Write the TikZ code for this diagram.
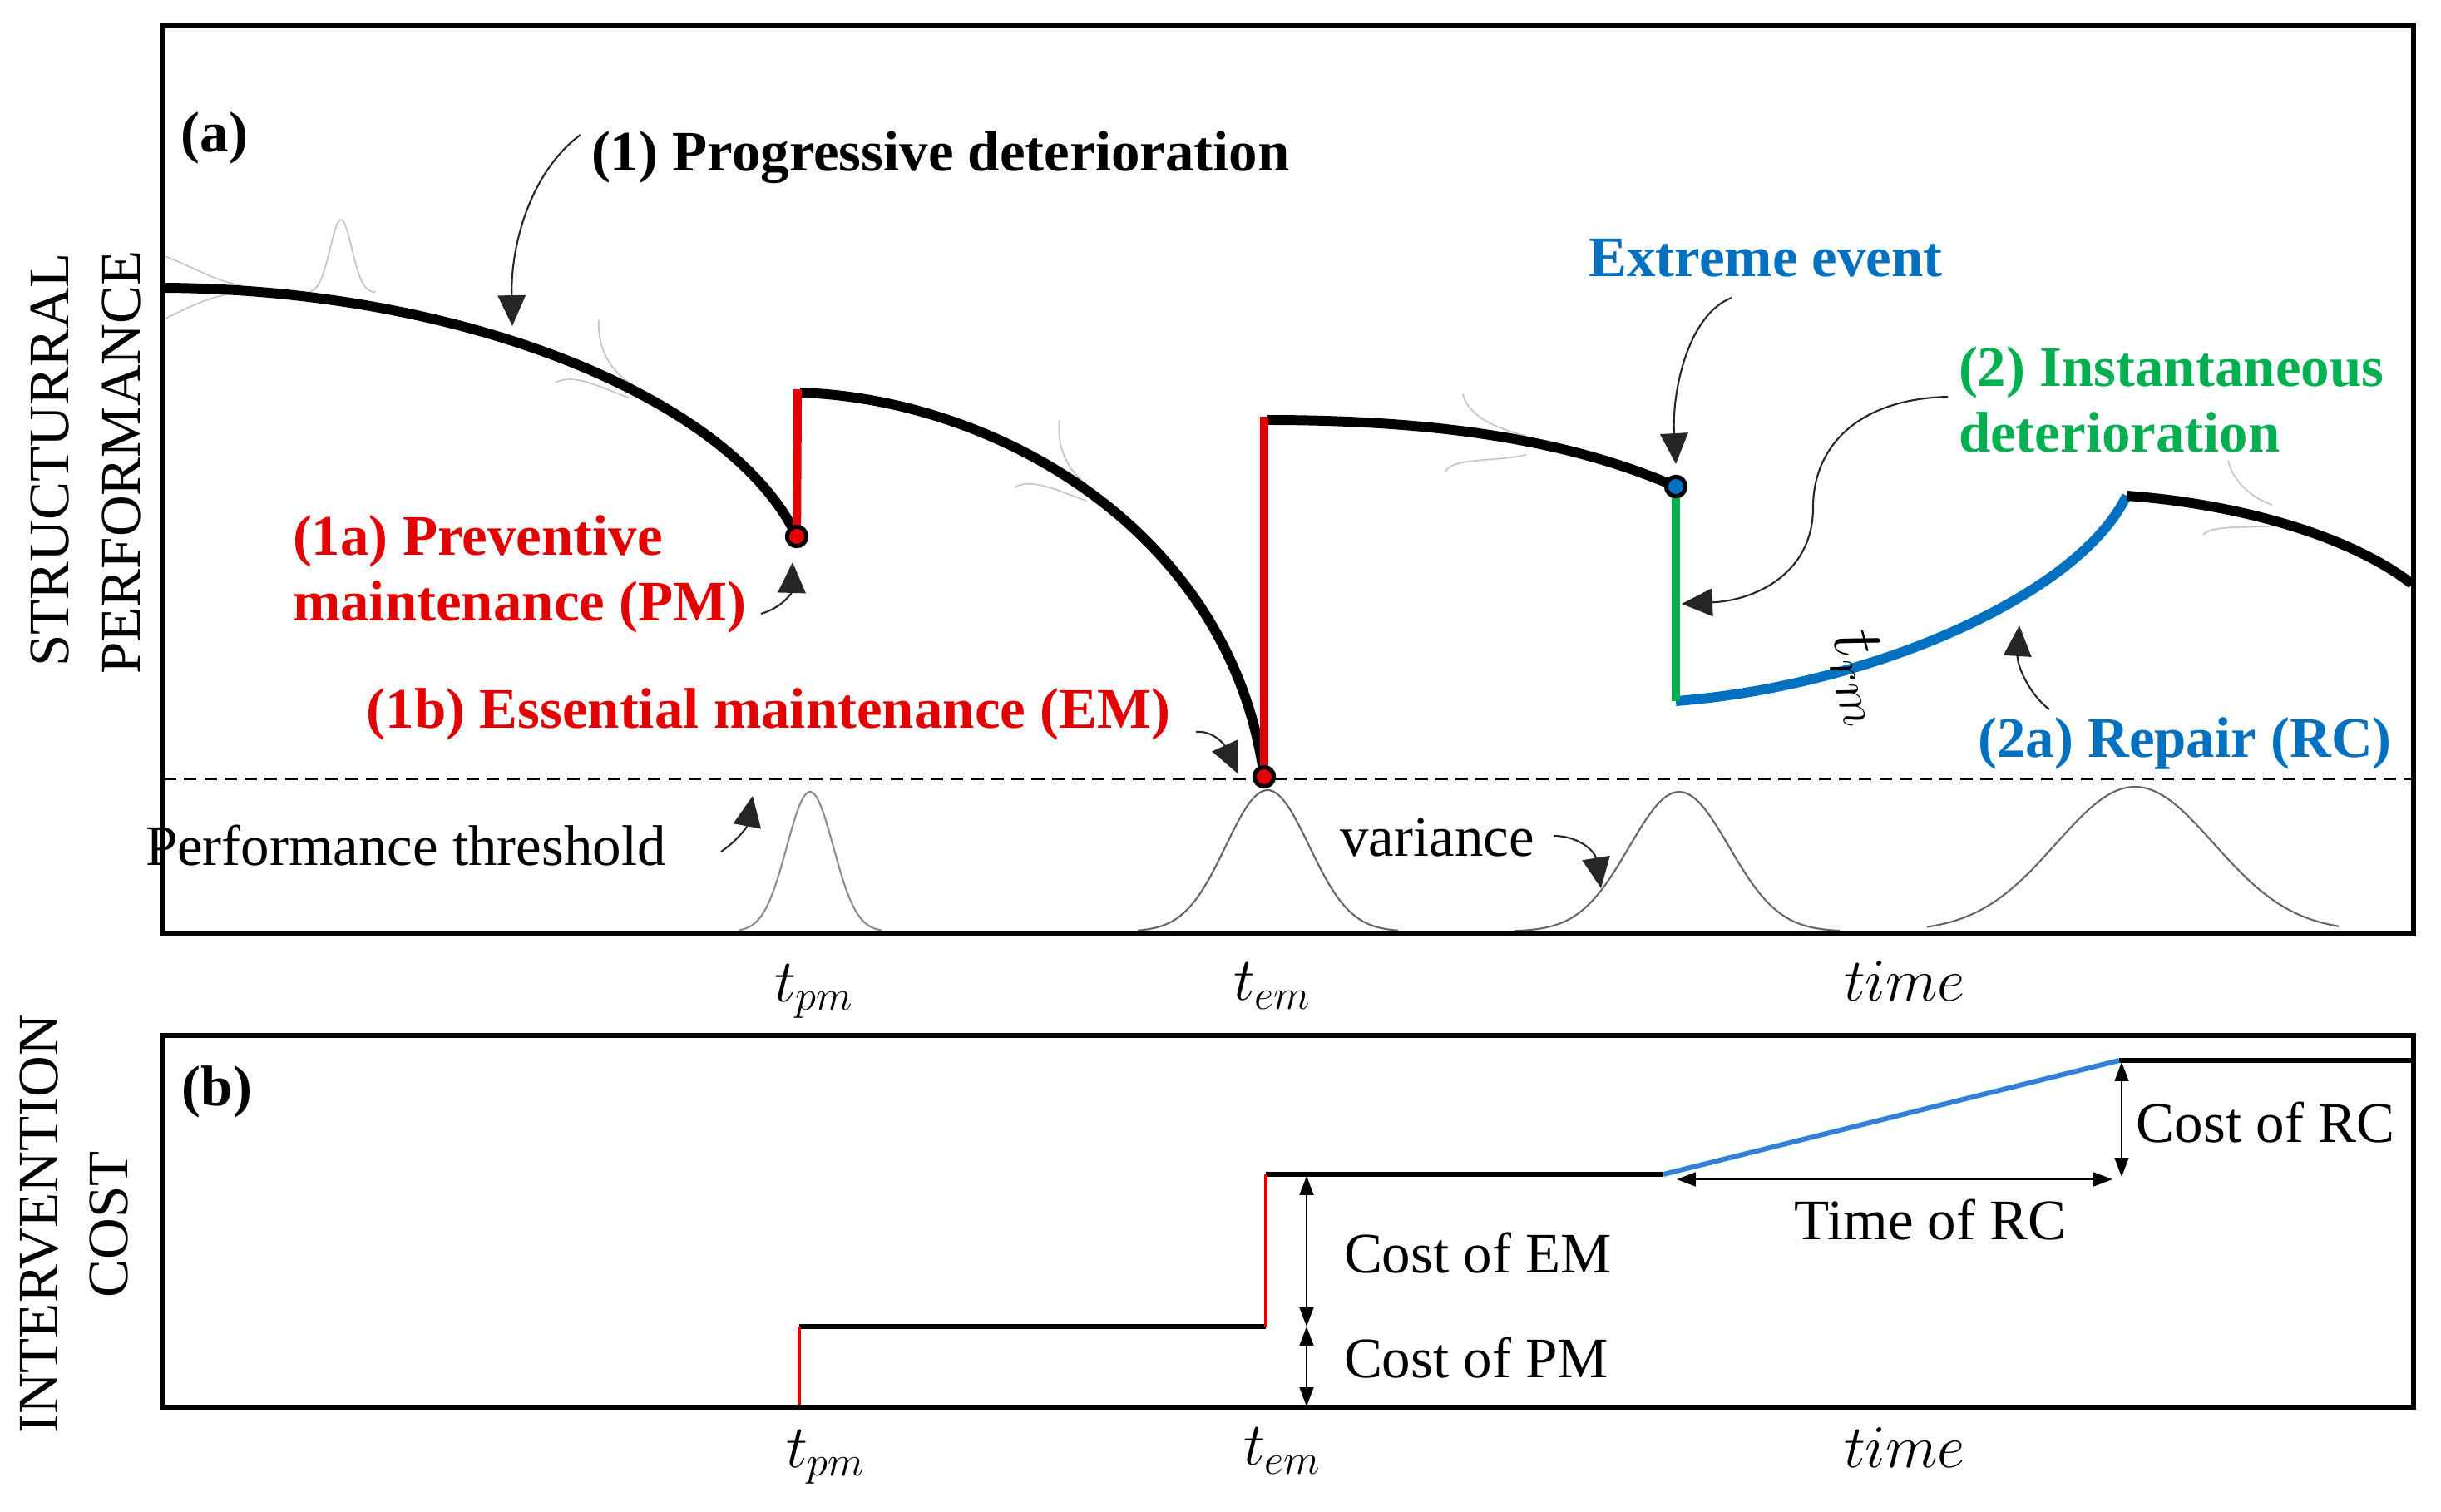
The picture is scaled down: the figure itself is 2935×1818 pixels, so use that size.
\documentclass[tikz,border=0pt]{standalone}
\usepackage{fontspec}
\setmainfont{Liberation Serif}
\usetikzlibrary{arrows.meta,calc}
\definecolor{pmred}{RGB}{226,0,0}
\definecolor{rcblue}{RGB}{0,112,192}
\definecolor{evgreen}{RGB}{0,176,80}
\definecolor{lineblue}{RGB}{50,130,215}
\begin{document}
\begin{tikzpicture}[x=0.01cm,y=-0.01cm,
  every node/.style={inner sep=0pt,outer sep=0pt},
  txt/.style={font=\fontsize{19.6}{22.5}\selectfont},
  btxt/.style={font=\fontsize{19.6}{22.5}\selectfont\bfseries},
  mtxt/.style={font=\fontsize{20}{24}\selectfont},
  frame/.style={line width=1.45pt},
  perf/.style={line width=3.4pt},
  note/.style={black!85,line width=0.6pt,-{Triangle[length=10.5pt,width=9.5pt]}},
  dim/.style={line width=0.5pt,{Triangle[length=6.5pt,width=4.8pt]}-{Triangle[length=6.5pt,width=4.8pt]}},
  pdf/.style={gray!45,line width=0.5pt},
  bell/.style={black!60,line width=0.6pt},
  dot/.style={circle,draw=black,line width=1.4pt,minimum size=6.6pt},
  cost/.style={line width=1.7pt},
]
\useasboundingbox (0,0) rectangle (2935,1818);

% ---------- axis titles ----------
\node[txt,rotate=90] (ylabA1) at (60,553) {STRUCTURRAL};
\node[txt,rotate=90] (ylabA2) at (146,556) {PERFORMANCE};
\node[txt,rotate=90] (ylabB1) at (47,1472) {INTERVENTION};
\node[txt,rotate=90] (ylabB2) at (131,1472) {COST};

% ---------- panel (a) ----------
% faint pdf curves along the path
\draw[pdf] (198,308) .. controls (235,322) and (258,338) .. (290,343);
\draw[pdf] (199,383) .. controls (235,365) and (258,355) .. (290,351);
\draw[pdf] plot[domain=372:452,samples=40] (\x,{352-88*exp(-0.5*((\x-410)/13)*((\x-410)/13))});
\draw[pdf] (720,385) .. controls (718,420) and (735,447) .. (760,462);
\draw[pdf] (668,460) .. controls (690,448) and (722,466) .. (756,478);
\draw[pdf] (1274,505) .. controls (1270,540) and (1285,566) .. (1306,582);
\draw[pdf] (1220,586) .. controls (1240,574) and (1272,590) .. (1306,602);
\draw[pdf] (1759,474) .. controls (1765,500) and (1800,516) .. (1835,524);
\draw[pdf] (1737,568) .. controls (1746,550) and (1790,556) .. (1835,547);
\draw[pdf] (2679,554) .. controls (2685,580) and (2710,600) .. (2732,607);
\draw[pdf] (2649,643) .. controls (2660,630) and (2710,636) .. (2751,631);

% bells under the threshold
\draw[black!45,line width=0.6pt] plot[domain=888:1060,samples=60] (\x,{1120-168*exp(-0.5*((\x-974)/28)*((\x-974)/28))});
\draw[bell] plot[domain=1368:1681,samples=80] (\x,{1120-170*exp(-0.5*((\x-1524)/50)*((\x-1524)/50))});
\draw[bell] plot[domain=1821:2212,samples=80] (\x,{1120-168*exp(-0.5*((\x-2019)/60)*((\x-2019)/60))});
\draw[bell] plot[domain=2317:2812,samples=90] (\x,{1120-174*exp(-0.5*((\x-2567)/95)*((\x-2567)/95))});

% threshold
\coordinate (thrL) at (197,936);
\coordinate (thrR) at (2900,936);
\draw[line width=0.85pt,dash pattern=on 4.3pt off 2.6pt] (thrL) -- (thrR);

% jump points
\coordinate (c1s) at (197,346);
\coordinate (pmTop) at (959,468);
\coordinate (emTop) at (1520,501);
\coordinate (eeLow) at (2015,843);
\coordinate (rcEnd) at (2557,596);
\coordinate (c4e) at (2900,702);
\node[dot,fill=pmred] (pmdot) at (958,645) {};
\node[dot,fill=pmred] (emdot) at (1520,934) {};
\node[dot,fill=rcblue] (eedot) at (2015,585) {};

% performance curves
\draw[perf] (c1s) .. controls (560,348) and (880,480) .. (pmdot.center);
\draw[perf] (962,472) .. controls (1200,480) and (1480,640) .. (emdot.center);
\draw[perf] (1524,505) .. controls (1750,505) and (1900,535) .. (eedot.center);
\draw[perf,rcblue] (eeLow) .. controls (2250,825) and (2500,715) .. (rcEnd);
\draw[perf] (rcEnd) .. controls (2680,605) and (2820,640) .. (c4e);

% jumps
\draw[pmred,line width=2.9pt] (pmdot.center) -- (pmTop);
\draw[pmred,line width=2.9pt] (emdot.center) -- (emTop);
\draw[evgreen,line width=2.9pt] (eedot.center) -- (eeLow);
\node[dot,fill=pmred] at (pmdot) {};
\node[dot,fill=pmred] at (emdot) {};
\node[dot,fill=rcblue] at (eedot) {};

\node[font=\fontsize{24}{28}\selectfont,rotate=-75] (trm) at (2238,815) {$t_{rm}$};

% labels
\node[btxt] (tagA) at (258,166) {(a)};
\node[btxt,anchor=west] (lprog) at (711,189) {(1) Progressive deterioration};
\node[btxt,text=rcblue] (lext) at (2123,310) {Extreme event};
\node[btxt,text=evgreen,anchor=west,align=left] (linst) at (2355,480) {(2) Instantaneous\\deterioration};
\node[btxt,text=pmred,anchor=west,align=left] (lpm) at (352,690) {(1a) Preventive\\maintenance (PM)};
\node[btxt,text=pmred] (lem) at (924,859) {(1b) Essential maintenance (EM)};
\node[btxt,text=rcblue] (lrc) at (2627,894) {(2a) Repair (RC)};
\node[txt,anchor=west] (lthr) at (175,1017) {Performance threshold};
\node[txt] (lvar) at (1728,1007) {variance};

% annotation arrows
\coordinate (a1s) at ($(lprog.west)+(-13,-27)$);
\coordinate (a1e) at (616,392);
\draw[note] (a1s) .. controls (640,205) and (614,290) .. (a1e);
\coordinate (ees) at (2082,358);
\coordinate (eee) at (2015,558);
\draw[note] (ees) .. controls (2030,378) and (2010,470) .. (eee);
\coordinate (ins) at (2342,477);
\coordinate (ine) at (2022,726);
\draw[note] (ins) .. controls (2230,480) and (2180,540) .. (2180,610) .. controls (2180,690) and (2110,722) .. (ine);
\coordinate (rcs) at (2464,853);
\coordinate (rce) at (2428,752);
\draw[note] (rcs) .. controls (2440,835) and (2425,800) .. (rce);
\coordinate (pms) at (915,738);
\coordinate (pme) at (953,676);
\draw[note] (pms) .. controls (942,730) and (952,712) .. (pme);
\coordinate (ems) at (1438,880);
\coordinate (eme) at (1488,930);
\draw[note] (ems) .. controls (1458,878) and (1472,895) .. (eme);
\coordinate (ths) at (867,1024);
\coordinate (the) at (905,957);
\draw[note] (ths) .. controls (885,1012) and (898,995) .. (the);
\coordinate (vas) at (1868,1005);
\coordinate (vae) at (1925,1068);
\draw[note] (vas) .. controls (1900,1005) and (1918,1025) .. (vae);

% frame (a)
\draw[frame] (195,31) rectangle (2902,1123);

% time labels (a)
\node[mtxt] (tpmA) at (979,1192) {$t_{pm}$};
\node[mtxt] (temA) at (1530,1186) {$t_{em}$};
\node[mtxt] (timeA) at (2290,1180) {$time$};

% ---------- panel (b) ----------
\node[btxt] (tagB) at (261,1313) {(b)};
\coordinate (pmB0) at (961,1692);
\coordinate (pmB1) at (961,1595);
\coordinate (emB0) at (1522,1595);
\coordinate (emB1) at (1522,1412);
\coordinate (rcB0) at (2000,1412);
\coordinate (rcB1) at (2548,1275);
\coordinate (rcB2) at (2901,1275);
\draw[cost] (pmB1) -- (emB0);
\draw[cost] (emB1) -- (rcB0);
\draw[cost] (rcB1) -- (rcB2);
\draw[cost,lineblue] (rcB0) -- (rcB1);
\draw[pmred,line width=1.1pt] (pmB0) -- (pmB1);
\draw[pmred,line width=1.1pt] (emB0) -- (emB1);

\coordinate (dEMt) at (1571,1414);
\coordinate (dEMb) at (1571,1595);
\coordinate (dPMb) at (1571,1691);
\coordinate (dRCt) at (2551,1277);
\coordinate (dRCb) at (2551,1415);
\coordinate (dTl) at (2016,1418);
\coordinate (dTr) at (2540,1418);
\draw[dim] (dEMt) -- (dEMb);
\draw[dim] (dEMb) -- (dPMb);
\draw[dim] (dRCt) -- (dRCb);
\draw[dim] (dTl) -- (dTr);

\node[txt,anchor=west] (cem) at (1616,1507) {Cost of EM};
\node[txt,anchor=west] (cpm) at (1616,1633) {Cost of PM};
\node[txt] (trc) at (2321,1467) {Time of RC};
\node[txt] (crc) at (2724,1350) {Cost of RC};

\draw[frame] (195,1245) rectangle (2902,1692);

\node[mtxt] (tpmB) at (993,1752) {$t_{pm}$};
\node[mtxt] (temB) at (1542,1745) {$t_{em}$};
\node[mtxt] (timeB) at (2290,1741) {$time$};
\end{tikzpicture}
\end{document}
